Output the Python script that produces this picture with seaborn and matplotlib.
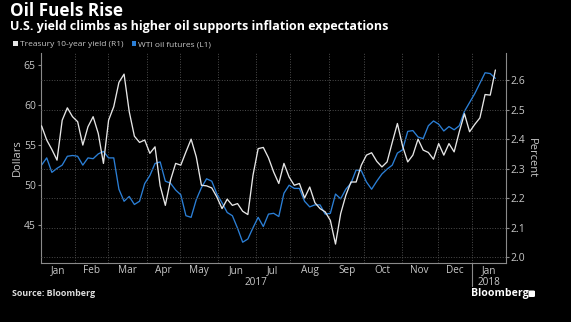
import numpy as np
import pandas as pd
import matplotlib
matplotlib.use("Agg")
import matplotlib.pyplot as plt
import seaborn as sns
from matplotlib.patches import Patch, FancyBboxPatch

# ---- data (sampled every third trading day from 3 Jan 2017) ----
oil = [52.5, 53.4, 51.6, 52.1, 52.5, 53.6, 53.7, 53.6, 52.5, 53.4,
       53.3, 53.9, 54.2, 53.4, 53.4, 49.5, 48.0, 48.6, 47.6, 48.0,
       50.2, 51.2, 52.7, 52.9, 50.5, 50.25, 49.4, 48.8, 46.2, 46.0,
       48.2, 49.7, 50.8, 50.5, 48.9, 47.8, 46.6, 46.2, 44.65, 42.9,
       43.3, 44.7, 46.0, 44.85, 46.4, 46.5, 46.1, 49.0, 50.0, 49.6,
       49.6, 48.0, 47.3, 47.55, 47.55, 46.4, 46.5, 48.9, 48.3, 49.5,
       50.25, 51.9, 51.8, 50.4, 49.5, 50.5, 51.4, 52.0, 52.5, 54.0,
       54.4, 56.7, 56.8, 56.0, 55.8, 57.4, 58.0, 57.6, 56.75, 57.3,
       56.9, 57.4, 59.2, 60.3, 61.4, 62.7, 64.0, 63.9, 63.3]
yld = [2.445, 2.397, 2.365, 2.329, 2.464, 2.506, 2.476, 2.459, 2.380, 2.442,
       2.476, 2.419, 2.318, 2.464, 2.510, 2.592, 2.620, 2.493, 2.410, 2.389,
       2.397, 2.352, 2.374, 2.242, 2.176, 2.261, 2.318, 2.312, 2.357, 2.400,
       2.340, 2.244, 2.242, 2.235, 2.204, 2.165, 2.197, 2.176, 2.182, 2.156,
       2.145, 2.278, 2.368, 2.372, 2.337, 2.289, 2.250, 2.318, 2.272, 2.244,
       2.250, 2.201, 2.238, 2.185, 2.165, 2.154, 2.125, 2.045, 2.148, 2.210,
       2.255, 2.255, 2.312, 2.346, 2.354, 2.325, 2.306, 2.323, 2.389, 2.453,
       2.377, 2.323, 2.346, 2.400, 2.363, 2.355, 2.332, 2.385, 2.346, 2.385,
       2.357, 2.425, 2.486, 2.425, 2.450, 2.472, 2.551, 2.549, 2.634]
holidays = ["2017-01-16", "2017-02-20", "2017-04-14", "2017-05-29", "2017-07-04",
            "2017-09-04", "2017-11-23", "2017-12-25", "2018-01-01", "2018-01-15"]
month_labels = ["Jan", "Feb", "Mar", "Apr", "May", "Jun", "Jul", "Aug",
                "Sep", "Oct", "Nov", "Dec", "Jan"]
oil_ticks = [45, 50, 55, 60, 65]
yld_ticks = [2.0, 2.1, 2.2, 2.3, 2.4, 2.5, 2.6]

BLUE = "#2b7fd6"
WHITE = "#e6e6e6"
GRID = "#4d4d4d"
SPINE = "#8a8a8a"
TXT = "#c8c8c8"

sns.set_theme(style="dark", rc={"axes.facecolor": "black", "figure.facecolor": "black"})
plt.rcParams["font.family"] = ["Open Sans", "DejaVu Sans"]

# trading-day calendar
cal = pd.bdate_range("2017-01-03", "2018-01-31")
cal = cal[~cal.isin(pd.to_datetime(holidays))]
pos = np.arange(len(cal))
df = pd.DataFrame({"day": pos[::3][:len(oil)], "date": cal[::3][:len(oil)],
                   "oil": oil, "yield": yld})

fig = plt.figure(figsize=(5.71, 3.22), dpi=100)
ax = fig.add_axes([40.7 / 571, 1 - 262.7 / 322, 465 / 571, 209.7 / 322])
ax2 = ax.twinx()

sns.lineplot(data=df, x="day", y="oil", ax=ax, color=BLUE, linewidth=0.95, legend=False)
sns.lineplot(data=df, x="day", y="yield", ax=ax2, color=WHITE, linewidth=0.95, legend=False)

xmax = 270
ax.set_xlim(-0.5, xmax)
ax.set_ylim(40.35, 66.46)
ax2.set_ylim(1.982, 2.6915)

# month boundaries / centres
starts = [i for i in range(len(cal)) if i == 0 or cal[i].month != cal[i - 1].month]
starts = starts[:13]
bounds = [s - 0.5 for s in starts]
edges = bounds + [xmax]
centres = [(edges[j] + edges[j + 1]) / 2 for j in range(13)]

ax.set_xticks(bounds[1:])
ax.set_xticklabels([])
ax.set_xticks(centres, minor=True)
ax.set_xticklabels(month_labels, minor=True)
ax.tick_params(axis="x", which="major", length=4, color=SPINE, width=0.8)
ax.tick_params(axis="x", which="minor", length=0, pad=1.5, labelsize=7.2, labelcolor=TXT)

ax.set_yticks(oil_ticks)
ax.set_yticklabels([str(v) for v in oil_ticks])
ax.tick_params(axis="y", length=2.5, width=0.8, color=SPINE, pad=1, labelsize=7.5,
               labelcolor=TXT, left=True)
ax2.set_yticks(yld_ticks)
ax2.set_yticklabels([f"{v:.1f}" for v in yld_ticks])
ax2.tick_params(axis="y", length=2.5, width=0.8, color=SPINE, pad=1, labelsize=7.5,
                labelcolor=TXT, right=True)

ax.set_xlabel("")
ax.set_ylabel("")
ax2.set_ylabel("")

ax.grid(False)
ax2.grid(False)
ax.grid(axis="x", which="major", color=GRID, linestyle=":", linewidth=0.7)
ax2.grid(axis="y", color=GRID, linestyle=":", linewidth=0.7)

for a in (ax, ax2):
    for s in a.spines.values():
        s.set_visible(False)
ax.spines["left"].set_visible(True)
ax.spines["bottom"].set_visible(True)
ax2.spines["right"].set_visible(True)
for s in (ax.spines["left"], ax.spines["bottom"], ax2.spines["right"]):
    s.set_color(SPINE)
    s.set_linewidth(0.8)

# year labels and separator
xt = ax.get_xaxis_transform()
ax.text((bounds[0] + bounds[12]) / 2, -0.094, "2017", transform=xt, ha="center",
        va="center", fontsize=7.2, color=TXT)
ax.text((bounds[12] + xmax) / 2, -0.094, "2018", transform=xt, ha="center",
        va="center", fontsize=7.2, color=TXT)
ax.plot([bounds[12], bounds[12]], [0, -0.112], transform=xt, clip_on=False,
        color=SPINE, linewidth=0.8)

# axis titles
fig.text(17 / 571, 1 - 158 / 322, "Dollars", rotation=90, ha="center", va="center",
         fontsize=8, color=TXT)
fig.text(531.5 / 571, 1 - 158 / 322, "Percent", rotation=270, ha="center", va="center",
         fontsize=8, color=TXT)

# titles
fig.text(10 / 571, 1 - 11.5 / 322, "Oil Fuels Rise", fontsize=12.3, weight="bold",
         color="white", va="center", ha="left")
fig.text(10 / 571, 1 - 26.5 / 322, "U.S. yield climbs as higher oil supports inflation expectations",
         fontsize=9, weight="bold", color="white", va="center", ha="left")

# legend
handles = [Patch(facecolor=WHITE, edgecolor="none"), Patch(facecolor=BLUE, edgecolor="none")]
fig.legend(handles=handles, labels=["Treasury 10-year yield (R1)", "WTI oil futures (L1)"],
           loc="center left", bbox_to_anchor=(13 / 571, 1 - 44.5 / 322), ncol=2,
           frameon=False, fontsize=6, handlelength=0.55, handleheight=0.55,
           handletextpad=0.25, columnspacing=1.0, labelcolor=TXT,
           borderaxespad=0, borderpad=0)

# footer
fig.text(12 / 571, 1 - 293.5 / 322, "Source: Bloomberg", fontsize=6.4, weight="bold",
         color="#dddddd", va="center", ha="left")
fig.text(471.5 / 571, 1 - 293.5 / 322, "Bloomberg", fontsize=7.6, weight="bold",
         color="white", va="center", ha="left")
fig.patches.append(FancyBboxPatch((528.5 / 571, 1 - 297 / 322), 6.5 / 571, 6.5 / 322,
                                  boxstyle="round,pad=0,rounding_size=0.003",
                                  transform=fig.transFigure, facecolor="white",
                                  edgecolor="none"))

fig.savefig("out.png", dpi=100, facecolor="black")
